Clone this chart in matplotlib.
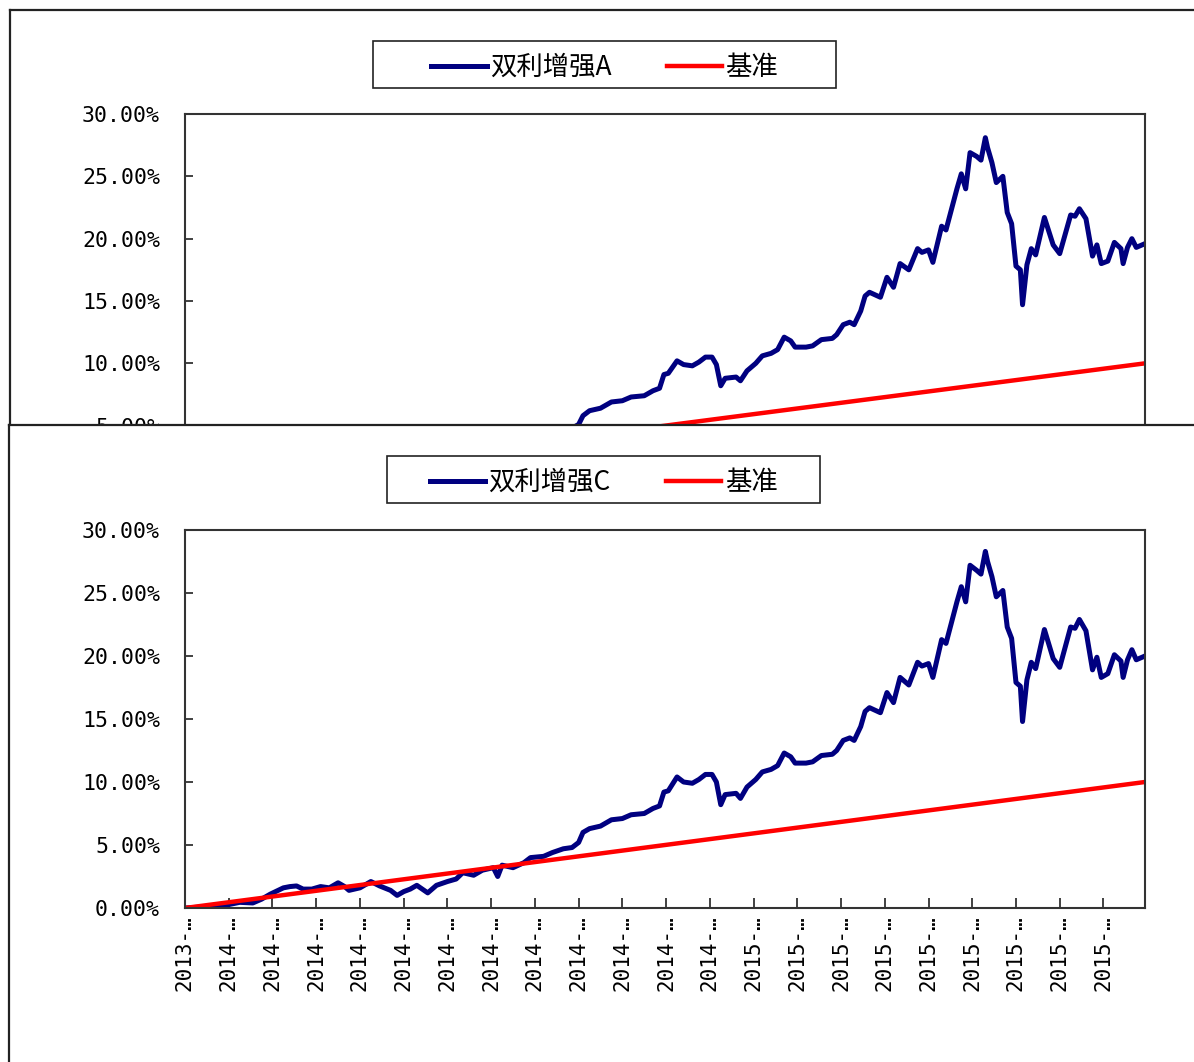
import numpy as np
import matplotlib.pyplot as plt
from matplotlib.patches import Rectangle
from matplotlib.lines import Line2D

W, H = 1194, 1062

# trading-day index of each reading, fund returns (%)
day_idx = [0, 5, 11, 18, 25, 31, 35, 39, 45, 48, 51, 54, 58, 62, 66, 70, 73, 75, 80, 85,
           89, 94, 97, 100, 103, 106, 111, 115, 120, 124, 127, 132, 136, 141, 143, 145, 150, 155, 158, 164,
           168, 173, 177, 180, 182, 185, 190, 195, 200, 204, 210, 214, 217, 219, 221, 225, 228, 232, 235, 238,
           241, 243, 245, 247, 252, 254, 257, 261, 264, 268, 271, 274, 277, 279, 284, 287, 291, 296, 298, 301,
           304, 306, 309, 311, 313, 318, 321, 324, 327, 331, 335, 337, 340, 342, 346, 348, 351, 353, 355, 357,
           359, 362, 364, 366, 367, 369, 371, 374, 376, 378, 380, 382, 383, 385, 387, 389, 393, 397, 400, 405,
           407, 409, 412, 415, 417, 419, 422, 425, 428, 429, 431, 433, 435, 439]

fund_c = [0.0, 0.05, 0.1, 0.2, 0.45, 0.4, 0.7, 1.1, 1.6, 1.7, 1.75, 1.5, 1.5, 1.7, 1.6, 2.0, 1.7, 1.4, 1.6, 2.1,
          1.75, 1.4, 1.0, 1.3, 1.5, 1.8, 1.2, 1.8, 2.1, 2.3, 2.8, 2.6, 3.0, 3.2, 2.5, 3.4, 3.2, 3.6, 4.0, 4.1,
          4.4, 4.7, 4.8, 5.2, 6.0, 6.3, 6.5, 7.0, 7.1, 7.4, 7.5, 7.9, 8.1, 9.2, 9.3, 10.4, 10.0, 9.9, 10.2, 10.6,
          10.6, 10.0, 8.2, 9.0, 9.1, 8.7, 9.6, 10.2, 10.8, 11.0, 11.3, 12.3, 12.0, 11.5, 11.5, 11.6, 12.1, 12.2, 12.5, 13.3,
          13.5, 13.3, 14.4, 15.6, 15.9, 15.5, 17.1, 16.3, 18.3, 17.7, 19.5, 19.2, 19.4, 18.3, 21.3, 21.0, 23.0, 24.3, 25.5, 24.3,
          27.2, 26.8, 26.5, 28.3, 27.5, 26.3, 24.7, 25.2, 22.3, 21.4, 17.9, 17.6, 14.8, 18.1, 19.5, 19.0, 22.1, 19.8, 19.1, 22.3,
          22.2, 22.9, 22.0, 18.9, 19.9, 18.3, 18.6, 20.1, 19.6, 18.3, 19.7, 20.5, 19.7, 20.0]

fund_a = [0.0, 0.05, 0.1, 0.2, 0.45, 0.4, 0.7, 1.1, 1.6, 1.7, 1.75, 1.5, 1.5, 1.7, 1.6, 2.0, 1.7, 1.4, 1.6, 2.1,
          1.75, 1.4, 1.0, 1.3, 1.5, 1.8, 1.2, 1.8, 2.1, 2.3, 2.8, 2.6, 3.0, 3.2, 2.5, 3.4, 3.2, 3.6, 4.0, 4.1,
          4.4, 4.7, 4.8, 5.1, 5.8, 6.2, 6.4, 6.9, 7.0, 7.3, 7.4, 7.8, 8.0, 9.1, 9.2, 10.2, 9.9, 9.8, 10.1, 10.5,
          10.5, 9.9, 8.2, 8.8, 8.9, 8.6, 9.4, 10.0, 10.6, 10.8, 11.1, 12.1, 11.8, 11.3, 11.3, 11.4, 11.9, 12.0, 12.3, 13.1,
          13.3, 13.1, 14.2, 15.4, 15.7, 15.3, 16.9, 16.1, 18.0, 17.5, 19.2, 18.9, 19.1, 18.1, 21.0, 20.7, 22.7, 24.0, 25.2, 24.0,
          26.9, 26.6, 26.3, 28.1, 27.3, 26.1, 24.5, 25.0, 22.1, 21.2, 17.8, 17.5, 14.7, 17.9, 19.2, 18.7, 21.7, 19.5, 18.8, 21.9,
          21.8, 22.4, 21.6, 18.6, 19.5, 18.0, 18.2, 19.7, 19.2, 18.0, 19.3, 20.0, 19.3, 19.6]

# benchmark: straight line from 0% to 10%
bench_days = [0, 439]
bench = [0.0, 10.0]

tick_days = [0, 20, 40, 60, 80, 100, 120, 140, 160, 180, 200, 220, 240, 260, 280, 300, 320, 340, 360, 380, 400, 420]
tick_labels = ['2013-…'] + ['2014-…'] * 12 + ['2015-…'] * 9
y_ticks = [0, 5, 10, 15, 20, 25, 30]

cjk = ['Noto Sans CJK SC', 'DejaVu Sans']
mono = 'DejaVu Sans Mono'
edge = '#333333'


def px_box(l, t, r, b):
    return [l / W, 1 - b / H, (r - l) / W, (b - t) / H]


fig = plt.figure(figsize=(W / 100, H / 100), dpi=100)


def panel(frame_lt, plot_px, legend_px, fund, name, z):
    # outer chart frame (white, covers whatever lies below it)
    fr = fig.add_axes(px_box(frame_lt[0], frame_lt[1], W + 40, H + 40), zorder=z)
    fr.set_facecolor('white')
    fr.set_xticks([])
    fr.set_yticks([])
    fr.spines['right'].set_visible(False)
    fr.spines['bottom'].set_visible(False)
    for s in ['left', 'top']:
        fr.spines[s].set_linewidth(1.6)
        fr.spines[s].set_color('#222222')

    ax = fig.add_axes(px_box(*plot_px), zorder=z + 1)
    ax.set_facecolor('white')
    ax.plot(day_idx, fund, color='#000080', lw=3.6, solid_joinstyle='round')
    ax.plot(bench_days, bench, color='#ff0000', lw=3.2)
    ax.set_xlim(0, 439)
    ax.set_ylim(0, 30)
    ax.set_xticks(tick_days)
    ax.set_xticklabels(tick_labels, rotation=90, family=mono, fontsize=15, va='top', ha='center')
    ax.set_yticks(y_ticks)
    ax.set_yticklabels([f'{v:.2f}%' for v in y_ticks], family=mono, fontsize=15.5)
    ax.tick_params(axis='x', direction='in', length=7, width=1.3, color=edge, pad=5)
    ax.tick_params(axis='y', direction='in', length=6, width=1.3, color=edge, pad=18)
    for s in ax.spines.values():
        s.set_linewidth(1.5)
        s.set_color(edge)

    # legend box
    l, t, r, b = legend_px
    ax.add_patch(Rectangle((l / W, 1 - b / H), (r - l) / W, (b - t) / H, transform=fig.transFigure,
                           facecolor='white', edgecolor='#222222', lw=1.2, clip_on=False))
    handles = [Line2D([], [], color='#000080', lw=3.6), Line2D([], [], color='#ff0000', lw=3.2)]
    ax.legend(handles, [name, '基准'], loc='center', ncol=2, frameon=False,
              bbox_to_anchor=((l + r) / 2 / W, 1 - (t + b + 6) / 2 / H), bbox_transform=fig.transFigure,
              prop={'family': cjk, 'size': 19}, handlelength=2.1, handletextpad=0.12,
              columnspacing=2.1, borderpad=0.2)
    return ax


panel((10, 10), (185, 114, 1145, 488), (373, 41, 836, 88), fund_a, '双利增强A', 1)
panel((9, 425), (185, 530, 1145, 908), (387, 456, 820, 503), fund_c, '双利增强C', 3)

fig.savefig('out.png', dpi=100, facecolor='white')
